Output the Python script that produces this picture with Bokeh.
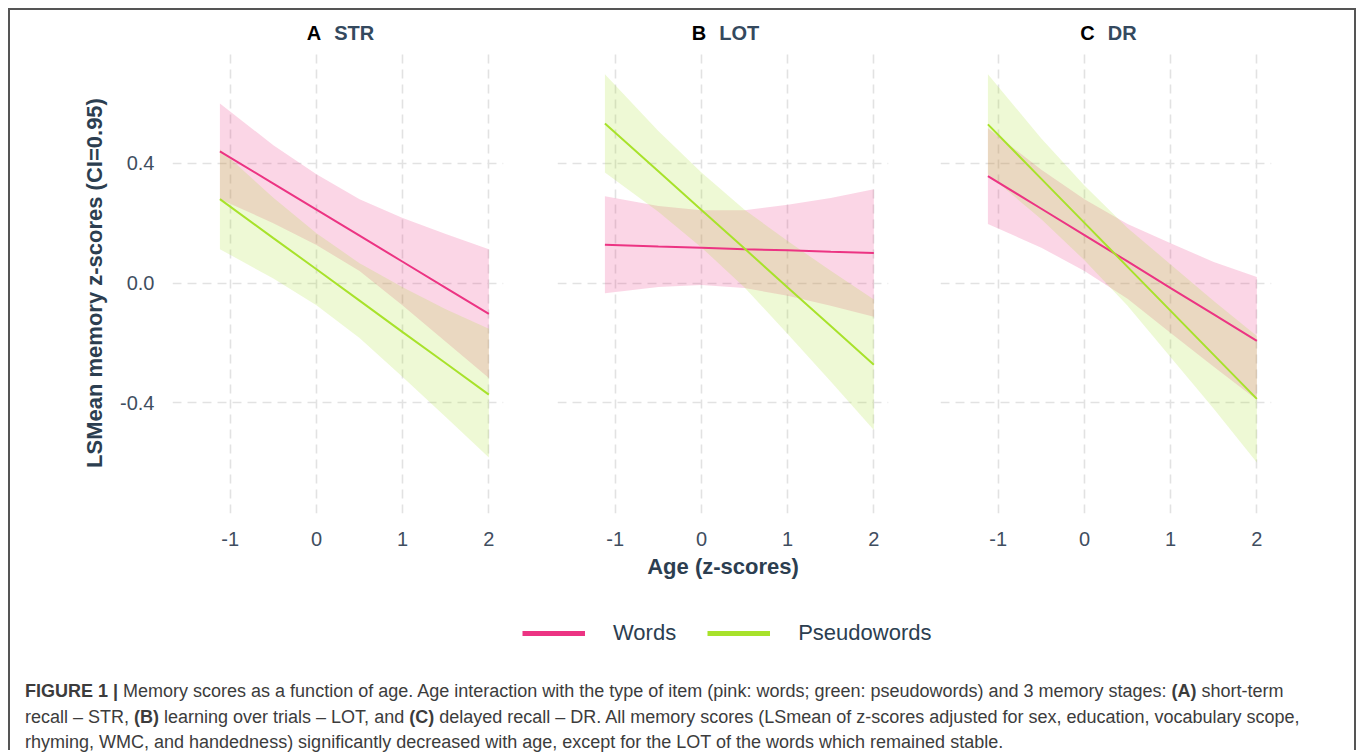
from bokeh.plotting import figure
from bokeh.models import Range1d, FixedTicker, Legend, LegendItem, Div, ColumnDataSource
from bokeh.layouts import column, row
from bokeh.core.properties import value
from bokeh.embed import file_html
from bokeh.resources import INLINE

# ---------------- data ----------------
age = [-1.12, -0.5, 0.0, 0.5, 1.0, 1.5, 2.0]

panel_letters = ["A", "B", "C"]
panel_titles = ["STR", "LOT", "DR"]
series_names = ["Words", "Pseudowords"]

str_words_fit = [0.440, 0.332, 0.245, 0.158, 0.071, -0.016, -0.103]
str_words_lower = [0.280, 0.200, 0.127, 0.040, -0.075, -0.196, -0.317]
str_words_upper = [0.600, 0.460, 0.363, 0.280, 0.217, 0.164, 0.113]
str_pseudo_fit = [0.280, 0.150, 0.046, -0.059, -0.164, -0.268, -0.373]
str_pseudo_lower = [0.113, 0.015, -0.074, -0.184, -0.314, -0.448, -0.583]
str_pseudo_upper = [0.447, 0.285, 0.166, 0.066, -0.014, -0.088, -0.153]

lot_words_fit = [0.128, 0.122, 0.118, 0.113, 0.109, 0.104, 0.100]
lot_words_lower = [-0.034, -0.013, -0.007, -0.017, -0.043, -0.076, -0.113]
lot_words_upper = [0.290, 0.257, 0.243, 0.243, 0.261, 0.284, 0.313]
lot_pseudo_fit = [0.533, 0.373, 0.244, 0.115, -0.015, -0.144, -0.273]
lot_pseudo_lower = [0.369, 0.238, 0.119, -0.015, -0.170, -0.329, -0.491]
lot_pseudo_upper = [0.697, 0.508, 0.369, 0.245, 0.140, 0.041, -0.055]

dr_words_fit = [0.357, 0.248, 0.160, 0.072, -0.017, -0.105, -0.193]
dr_words_lower = [0.197, 0.118, 0.040, -0.053, -0.167, -0.280, -0.390]
dr_words_upper = [0.517, 0.378, 0.280, 0.197, 0.133, 0.070, 0.020]
dr_pseudo_fit = [0.530, 0.348, 0.201, 0.054, -0.093, -0.240, -0.387]
dr_pseudo_lower = [0.363, 0.213, 0.076, -0.076, -0.248, -0.420, -0.600]
dr_pseudo_upper = [0.697, 0.483, 0.326, 0.184, 0.062, -0.060, -0.177]

x_ticks = [-1, 0, 1, 2]
x_tick_labels = ["-1", "0", "1", "2"]
y_ticks = [-0.4, 0.0, 0.4]
y_tick_labels = ["-0.4", "0.0", "0.4"]

# ---------------- styling ----------------
FONT = "Liberation Sans"
PINK = "#EC3483"
GREEN = "#A8E22B"
SLATE = "#2C3E50"
TITLE = "#34495E"
TICK = "#3F4E5F"
GRID = "#E2E2E2"

panel_data = [
    [(str_words_fit, str_words_lower, str_words_upper), (str_pseudo_fit, str_pseudo_lower, str_pseudo_upper)],
    [(lot_words_fit, lot_words_lower, lot_words_upper), (lot_pseudo_fit, lot_pseudo_lower, lot_pseudo_upper)],
    [(dr_words_fit, dr_words_lower, dr_words_upper), (dr_pseudo_fit, dr_pseudo_lower, dr_pseudo_upper)],
]
colors = [PINK, GREEN]

border_left = [162, 27, 27]
border_right = [27, 25, 83]
FRAME_W = 331


def make_panel(i):
    p = figure(frame_width=FRAME_W, frame_height=461,
               x_range=Range1d(-1.67, 2.17), y_range=Range1d(-0.77, 0.77),
               min_border_left=border_left[i], min_border_right=border_right[i],
               min_border_top=0, min_border_bottom=87,
               output_backend="svg", toolbar_location=None)
    p.outline_line_color = None

    for j in range(2):
        fit, lo, hi = panel_data[i][j]
        src = ColumnDataSource(dict(x=age, lo=lo, hi=hi))
        p.varea(x="x", y1="lo", y2="hi", source=src, fill_color=colors[j], fill_alpha=0.2)
    for j in range(2):
        fit, lo, hi = panel_data[i][j]
        src = ColumnDataSource(dict(x=age, fit=fit))
        p.line(x="x", y="fit", source=src, line_color=colors[j], line_width=2)

    xa = p.xaxis[0]
    xa.ticker = FixedTicker(ticks=x_ticks)
    xa.major_label_overrides = {t: s for t, s in zip(x_ticks, x_tick_labels)}
    xa.axis_line_color = None
    xa.major_tick_line_color = None
    xa.minor_tick_line_color = None
    xa.major_label_standoff = 12
    xa.major_label_text_font = FONT
    xa.major_label_text_font_size = "20px"
    xa.major_label_text_color = TICK
    if i == 1:
        xa.axis_label = "Age (z-scores)"
        xa.axis_label_standoff = 5
        xa.axis_label_text_font = FONT
        xa.axis_label_text_font_size = "22px"
        xa.axis_label_text_font_style = "bold"
        xa.axis_label_text_color = SLATE

    ya = p.yaxis[0]
    ya.ticker = FixedTicker(ticks=y_ticks)
    ya.major_label_overrides = {t: s for t, s in zip(y_ticks, y_tick_labels)}
    ya.axis_line_color = None
    ya.major_tick_line_color = None
    ya.minor_tick_line_color = None
    ya.major_label_standoff = 12
    ya.major_label_text_font = FONT
    ya.major_label_text_font_size = "20px"
    ya.major_label_text_color = TICK
    if i == 0:
        ya.axis_label = "LSMean memory z-scores (CI=0.95)"
        ya.axis_label_standoff = 10
        ya.axis_label_text_font = FONT
        ya.axis_label_text_font_size = "22px"
        ya.axis_label_text_font_style = "bold"
        ya.axis_label_text_color = SLATE
    else:
        ya.visible = False

    p.xgrid.ticker = FixedTicker(ticks=x_ticks)
    p.ygrid.ticker = FixedTicker(ticks=y_ticks)
    for g in (p.xgrid, p.ygrid):
        g.grid_line_color = GRID
        g.grid_line_width = 1.6
        g.grid_line_dash = "9 6"
    return p


panels = [make_panel(i) for i in range(3)]
panel_widths = [border_left[i] + FRAME_W + border_right[i] for i in range(3)]


def make_title(i):
    html = (
        f'<div style="margin-left:{border_left[i] + 3}px; width:{FRAME_W}px; text-align:center; '
        f'padding-top:13px; font-family:\'Liberation Sans\', Arial, sans-serif; font-weight:bold; '
        f'font-size:20px; line-height:20px; white-space:nowrap;">'
        f'<span style="color:black;">{panel_letters[i]}</span>'
        f'<span style="color:{TITLE}; margin-left:13px;">{panel_titles[i]}</span></div>'
    )
    return Div(text=html, width=panel_widths[i], height=42, margin=0)


titles = [make_title(i) for i in range(3)]

# ---------------- legend ----------------
nan = float("nan")
lg = figure(frame_width=sum(panel_widths), frame_height=65, min_border=0,
            x_axis_location=None, y_axis_location=None,
            output_backend="svg", toolbar_location=None)
lg.outline_line_color = None
lg.grid.visible = False
r1 = lg.line(x=[nan], y=[nan], line_color=PINK, line_width=5)
r2 = lg.line(x=[nan], y=[nan], line_color=GREEN, line_width=5)
legend = Legend(items=[LegendItem(label=value(series_names[0]), renderers=[r1]),
                       LegendItem(label=value(series_names[1]), renderers=[r2])],
                orientation="horizontal", location=(512, 19),
                glyph_width=63, glyph_height=20, label_standoff=28, spacing=31,
                padding=0, margin=0, border_line_color=None, background_fill_alpha=0,
                label_text_font=FONT, label_text_font_size="22px", label_text_color=SLATE)
lg.add_layout(legend)

# ---------------- caption ----------------
caption_html = (
    '<div style="padding:14px 0 0 15px; font-family:\'Liberation Sans\', Arial, sans-serif; '
    'font-size:18px; line-height:25.5px; color:#3c3c3c; white-space:nowrap;">'
    '<b>FIGURE 1 |</b> Memory scores as a function of age. Age interaction with the type of item '
    '(pink: words; green: pseudowords) and 3 memory stages: <b>(A)</b> short-term<br>'
    'recall \u2013 STR, <b>(B)</b> learning over trials \u2013 LOT, and <b>(C)</b> delayed recall \u2013 DR. '
    'All memory scores (LSmean of z-scores adjusted for sex, education, vocabulary scope,<br>'
    'rhyming, WMC, and handedness) significantly decreased with age, except for the LOT of the words '
    'which remained stable.'
    '</div>'
)
caption = Div(text=caption_html, width=sum(panel_widths), height=85, margin=0)

layout = column(row(*titles, spacing=0), row(*panels, spacing=0), lg, caption, spacing=0,
                margin=(8, 0, 0, 8),
                styles={"border-top": "2px solid #555", "border-left": "2px solid #555",
                        "border-right": "2px solid #555", "background-color": "white"})

open("out.html", "w").write(file_html(layout, INLINE))
